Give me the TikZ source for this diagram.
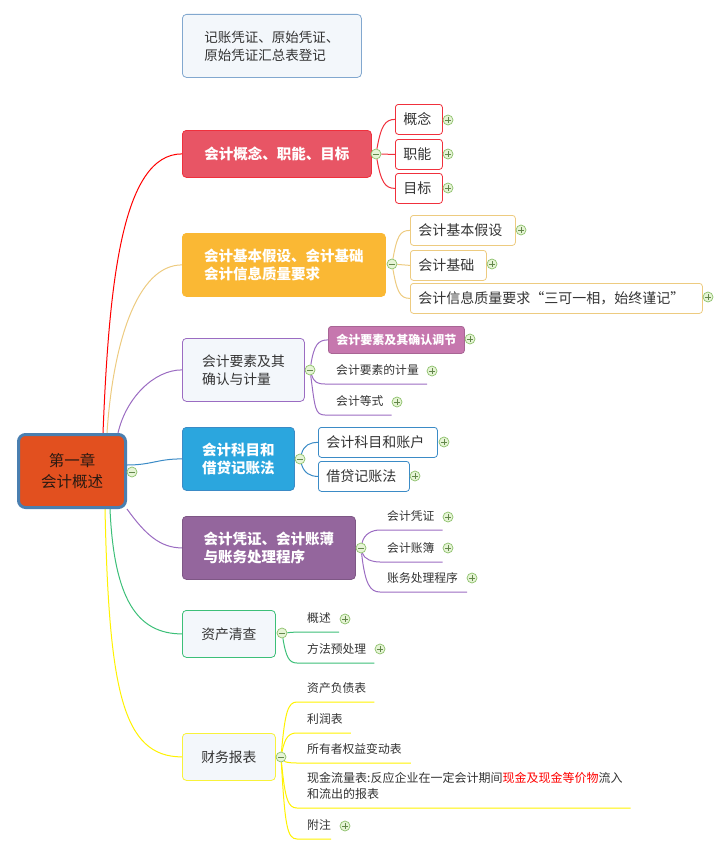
\documentclass[tikz,border=0pt]{standalone}
\usepackage{fontspec}
\setmainfont{Noto Sans CJK SC}
\usepackage{tikz}
\usetikzlibrary{calc, backgrounds}

\definecolor{rootfill}{HTML}{E2501F}
\definecolor{rootstroke}{HTML}{4A7FB0}
\definecolor{roottext}{HTML}{2A1A12}
\definecolor{palefill}{HTML}{F3F7FB}
\definecolor{palestroke}{HTML}{82A8CF}
\definecolor{conceptfill}{HTML}{E85565}
\definecolor{conceptstroke}{HTML}{F0303C}
\definecolor{basisfill}{HTML}{FAB834}
\definecolor{basisstroke}{HTML}{EDCB80}
\definecolor{elemstroke}{HTML}{9B6CC2}
\definecolor{elemfill}{HTML}{C677AE}
\definecolor{subjfill}{HTML}{2BA6DE}
\definecolor{subjstroke}{HTML}{3B8BC6}
\definecolor{voucherfill}{HTML}{94669D}
\definecolor{checkgreen}{HTML}{3CBF78}
\definecolor{reportyellow}{HTML}{F8F23A}
\definecolor{reportline}{HTML}{FFF200}
\definecolor{togglefill}{HTML}{E6F4D6}
\definecolor{togglestroke}{HTML}{8DC16B}
\definecolor{textgrey}{HTML}{333333}

\tikzset{
  rootbox/.style={draw=rootstroke, line width=3pt, fill=rootfill, rounded corners=7pt,
    minimum width=107pt, minimum height=73pt, inner sep=0pt, align=center,
    text=roottext, font=\fontsize{15.5}{21}\selectfont},
  topic/.style={draw, rounded corners=4pt, anchor=north west, inner sep=0pt, align=left,
    line width=0.8pt, text=textgrey, font=\fontsize{13.8}{18}\selectfont},
  boldtopic/.style={topic, text=white, font=\fontsize{14.5}{18}\selectfont\bfseries},
  leaf/.style={draw, rounded corners=3pt, anchor=north west, inner xsep=8pt, inner ysep=0pt,
    fill=white, line width=0.8pt, minimum height=30pt, align=left,
    text=textgrey, font=\fontsize{14}{16}\selectfont},
  lineleaf/.style={anchor=south west, inner xsep=0pt, inner ysep=8pt, align=left,
    text=textgrey, font=\fontsize{11.8}{16}\selectfont},
  togglebase/.style={circle, draw=togglestroke, fill=togglefill, minimum size=10pt,
    inner sep=0pt, line width=0.7pt},
  foldmark/.style={togglebase, path picture={
    \draw[togglestroke!70!black, line width=0.9pt]
      ([xshift=-2.6pt]path picture bounding box.center) -- ([xshift=2.6pt]path picture bounding box.center);}},
  unfoldmark/.style={togglebase, path picture={
    \draw[togglestroke!70!black, line width=0.9pt]
      ([xshift=-2.6pt]path picture bounding box.center) -- ([xshift=2.6pt]path picture bounding box.center)
      ([yshift=-2.6pt]path picture bounding box.center) -- ([yshift=2.6pt]path picture bounding box.center);}},
  link/.style={line width=1pt}
}

\begin{document}
\begin{tikzpicture}[x=1pt, y=-1pt]
  \useasboundingbox (0,0) rectangle (719,851);

  % root and note
  \node[rootbox] (root) at (72,471) {第一章\\会计概述};
  \node[foldmark] (m0) at (132,472) {};
  \node[topic, fill=palefill, draw=palestroke, minimum width=179pt, minimum height=63pt,
    font=\fontsize{13.5}{18}\selectfont] (note) at (182,14) {记账凭证、原始凭证、\\原始凭证汇总表登记};

  % main topics
  \node[boldtopic, fill=conceptfill, draw=conceptstroke, minimum width=189pt, minimum height=47pt] (b1) at (182,130) {会计概念、职能、目标};
  \node[boldtopic, fill=basisfill, draw=basisfill, minimum width=203pt, minimum height=63pt] (b2) at (182,233) {会计基本假设、会计基础\\会计信息质量要求};
  \node[topic, fill=palefill, draw=elemstroke, minimum width=122pt, minimum height=63pt] (b3) at (182,338) {会计要素及其\\确认与计量};
  \node[boldtopic, fill=subjfill, draw=subjstroke, minimum width=112pt, minimum height=63pt] (b4) at (182,427) {会计科目和\\借贷记账法};
  \node[boldtopic, fill=voucherfill, draw=voucherfill!85!black, minimum width=173pt, minimum height=63pt] (b5) at (182,516) {会计凭证、会计账薄\\与账务处理程序};
  \node[topic, fill=palefill, draw=checkgreen, minimum width=93pt, minimum height=47pt] (b6) at (182,610) {资产清查};
  \node[topic, fill=palefill, draw=reportyellow, minimum width=93pt, minimum height=47pt] (b7) at (182,733) {财务报表};

  % fold marks
  \foreach \name/\px/\py in {m1/376/154, m2/392/264, m3/310/370, m4/300/459, m5/361/548, m6/282/633, m7/281/757}
    \node[foldmark] (\name) at (\px,\py) {};

  % 会计概念
  \node[leaf, draw=conceptstroke, text width=31pt] (l11) at (395,104) {概念};
  \node[leaf, draw=conceptstroke, text width=31pt] (l12) at (395,139) {职能};
  \node[leaf, draw=conceptstroke, text width=31pt] (l13) at (395,173) {目标};

  % 会计基本假设
  \node[leaf, draw=basisstroke, text width=89pt] (l21) at (410,215) {会计基本假设};
  \node[leaf, draw=basisstroke, text width=60pt] (l22) at (410,250) {会计基础};
  \node[leaf, draw=basisstroke, text width=276pt] (l23) at (410,283) {会计信息质量要求“三可一相，始终谨记”};

  % 会计要素
  \node[leaf, fill=elemfill, draw=elemfill!85!black, minimum width=136pt, minimum height=27pt,
    align=center, inner xsep=0pt, text=white, font=\fontsize{12}{14}\selectfont\bfseries] (l31) at (328,326) {会计要素及其确认调节};
  \node[lineleaf] (l32) at (336,384) {会计要素的计量};
  \node[lineleaf] (l33) at (336,415) {会计等式};

  % 会计科目
  \node[leaf, draw=subjstroke, text width=103pt] (l41) at (318,427) {会计科目和账户};
  \node[leaf, draw=subjstroke, text width=75pt] (l42) at (318,461) {借贷记账法};

  % 会计凭证
  \node[lineleaf] (l51) at (387,530) {会计凭证};
  \node[lineleaf] (l52) at (387,562) {会计账簿};
  \node[lineleaf] (l53) at (387,592) {账务处理程序};

  % 资产清查
  \node[lineleaf] (l61) at (307,632) {概述};
  \node[lineleaf] (l62) at (307,663) {方法预处理};

  % 财务报表
  \node[lineleaf] (l71) at (307,702) {资产负债表};
  \node[lineleaf] (l72) at (307,733) {利润表};
  \node[lineleaf] (l73) at (307,763) {所有者权益变动表};
  \node[lineleaf, font=\fontsize{12}{16}\selectfont] (l74) at (307,808) {现金流量表:反应企业在一定会计期间\textcolor{red}{现金及现金等价物}流入\\和流出的报表};
  \node[lineleaf] (l75) at (307,839) {附注};

  % expand marks
  \foreach \px/\py [count=\k] in {448/120, 448/154, 448/188, 521/230, 492/264, 708/297,
      470/339, 432/371, 397/402, 444/442, 415/476, 448/517, 448/548, 472/578,
      345/619, 380/649, 345/826}
    \node[unfoldmark] (plus\k) at (\px,\py) {};

  \begin{scope}[on background layer]
    % root to topics
    \draw[link, red] ([xshift=-24pt]root.north east) .. controls +(6,-150) and +(-60,0) .. (b1.west);
    \draw[link, basisstroke] ([xshift=-20pt]root.north east) .. controls +(6,-90) and +(-45,0) .. (b2.west);
    \draw[link, elemstroke] ([xshift=-9pt]root.north east) .. controls +(8,-35) and +(-28,0) .. (b3.west);
    \draw[link, subjstroke] ([yshift=6pt]root.east) .. controls +(25,0) and +(-25,0) .. (b4.west);
    \draw[link, elemstroke] (root.south east) .. controls +(18,25) and +(-22,0) .. (b5.west);
    \draw[link, checkgreen] ([xshift=-17pt]root.south east) .. controls +(4,90) and +(-45,0) .. (b6.west);
    \draw[link, reportline] ([xshift=-22pt]root.south east) .. controls +(4,180) and +(-60,0) .. (b7.west);

    % 会计概念
    \draw[link, conceptstroke] (m1) .. controls +(5,-28) and +(-10,0) .. (l11.west);
    \draw[link, conceptstroke] (m1) -- (l12.west);
    \draw[link, conceptstroke] (m1) .. controls +(5,28) and +(-10,0) .. (l13.west);

    % 会计基本假设
    \draw[link, basisstroke] (m2) .. controls +(5,-28) and +(-10,0) .. (l21.west);
    \draw[link, basisstroke] (m2) -- (l22.west);
    \draw[link, basisstroke] (m2) .. controls +(5,28) and +(-10,0) .. (l23.west);

    % 会计要素
    \draw[link, elemstroke] (m3) .. controls +(4,-25) and +(-10,0) .. (l31.west);
    \draw[link, elemstroke] (m3) .. controls +(4,12) and +(-8,0) .. ([xshift=-11pt]l32.south west) -- ([xshift=8pt]l32.south east);
    \draw[link, elemstroke] (m3) .. controls +(5,38) and +(-10,0) .. ([xshift=-11pt]l33.south west) -- ([xshift=8pt]l33.south east);

    % 会计科目
    \draw[link, subjstroke] (m4) .. controls +(4,-14) and +(-8,0) .. (l41.west);
    \draw[link, subjstroke] (m4) .. controls +(4,14) and +(-8,0) .. (l42.west);

    % 会计凭证
    \draw[link, elemstroke] (m5) .. controls +(3,-14) and +(-8,0) .. ([xshift=-7pt]l51.south west) -- ([xshift=8pt]l51.south east);
    \draw[link, elemstroke] (m5) .. controls +(3,11) and +(-8,0) .. ([xshift=-7pt]l52.south west) -- ([xshift=8pt]l52.south east);
    \draw[link, elemstroke] (m5) .. controls +(4,36) and +(-10,0) .. ([xshift=-7pt]l53.south west) -- ([xshift=9pt]l53.south east);

    % 资产清查
    \draw[link, checkgreen] (m6) -- ([xshift=-10pt]l61.south west) -- ([xshift=8pt]l61.south east);
    \draw[link, checkgreen] (m6) .. controls +(4,24) and +(-8,0) .. ([xshift=-10pt]l62.south west) -- ([xshift=8pt]l62.south east);

    % 财务报表
    \draw[link, reportline] (m7) .. controls +(4,-45) and +(-9,0) .. ([xshift=-10pt]l71.south west) -- ([xshift=8pt]l71.south east);
    \draw[link, reportline] (m7) .. controls +(4,-20) and +(-8,0) .. ([xshift=-10pt]l72.south west) -- ([xshift=8pt]l72.south east);
    \draw[link, reportline] (m7) .. controls +(4,5) and +(-8,0) .. ([xshift=-10pt]l73.south west) -- ([xshift=9pt]l73.south east);
    \draw[link, reportline] (m7) .. controls +(4,42) and +(-9,0) .. ([xshift=-10pt]l74.south west) -- ([xshift=8pt]l74.south east);
    \draw[link, reportline] (m7) .. controls +(4,68) and +(-10,0) .. ([xshift=-10pt]l75.south west) -- (l75.south east);
  \end{scope}
\end{tikzpicture}
\end{document}
